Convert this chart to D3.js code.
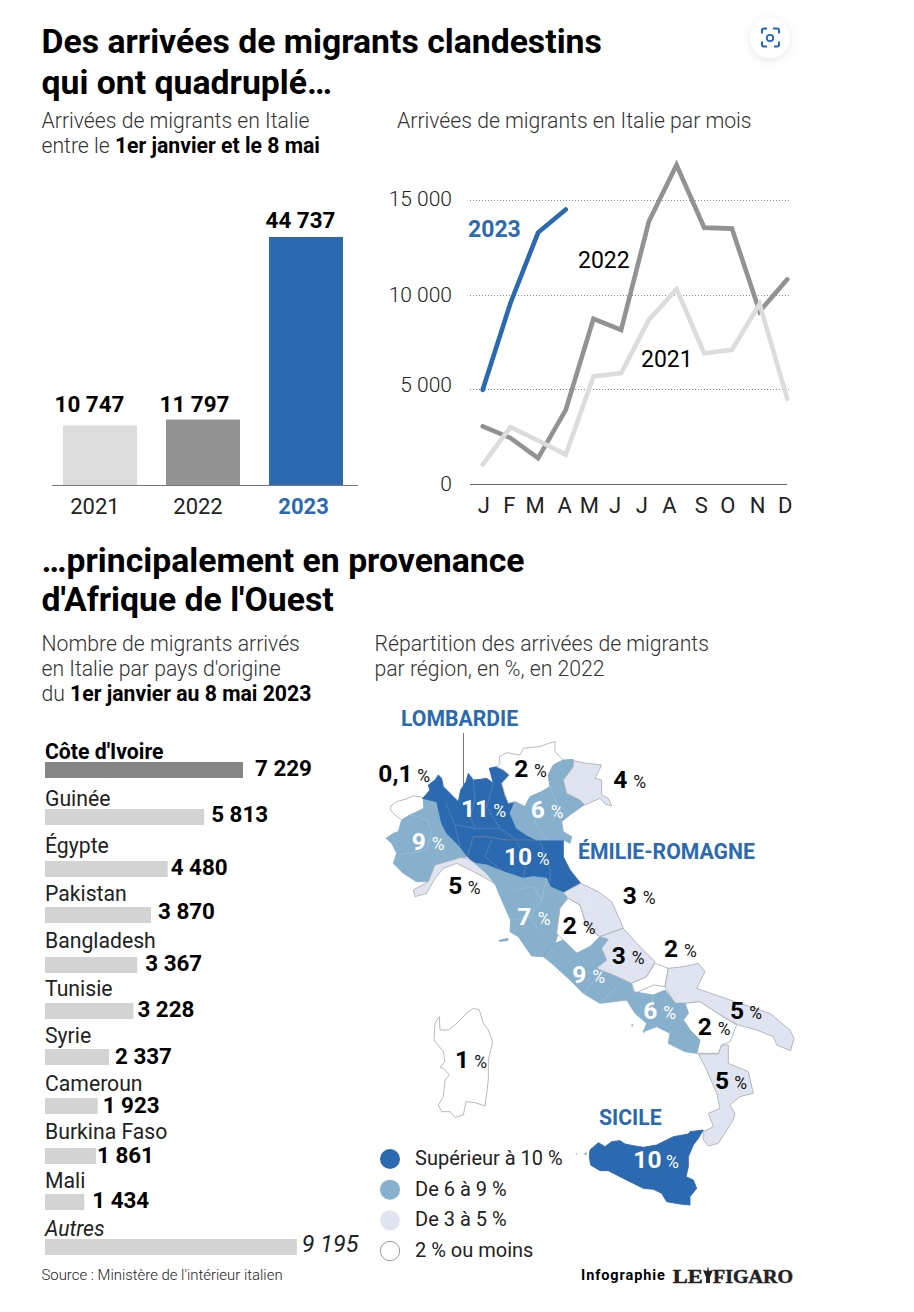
<!DOCTYPE html>
<html><head><meta charset="utf-8">
<script src="https://cdn.jsdelivr.net/npm/d3@7/dist/d3.min.js"></script>
<style>html,body{margin:0;padding:0;background:#fff}svg{display:block}text{font-family:Roboto,sans-serif}</style>
</head><body><svg id="c" width="914" height="1312"></svg>
<script>
const years=["2021","2022","2023"];
const totals=[10747,11797,44737];
const months=["J","F","M","A","M","J","J","A","S","O","N","D"];
const s2021=[1020,3000,2300,1550,5680,5860,8670,10290,6910,7090,9510,4500];
const s2022=[3040,2430,1370,3920,8720,8140,13860,16850,13540,13490,9110,10810];
const s2023=[4976,9550,13280,14500];
const yTicks=[0,5000,10000,15000];
const countries=["Côte d'Ivoire","Guinée","Égypte","Pakistan","Bangladesh","Tunisie","Syrie","Cameroun","Burkina Faso","Mali","Autres"];
const migrants=[7229,5813,4480,3870,3367,3228,2337,1923,1861,1434,9195];
const legendLabels=["Supérieur à 10 %","De 6 à 9 %","De 3 à 5 %","2 % ou moins"];
// regional shares and traced outlines (map units)
const regionNames=["Aoste","Piémont","Lombardie","Émilie-Romagne","Trentin","Vénétie","Frioul","Ligurie","Toscane","Ombrie","Marches","Latium","Abruzzes","Molise","Pouilles","Basilicate","Campanie","Calabre","Sicile","Sardaigne"];
const regionShares=[0.1,9,11,10,2,6,4,5,7,2,3,9,3,2,5,2,6,5,10,1];
const regionOutlines=[
[[92,318],[110,305],[135,298],[160,288],[190,292],[192,325],[165,340],[150,345],[125,360],[105,345],[92,330]],
[[190,295],[230,305],[245,370],[260,400],[300,440],[322,470],[300,473],[260,485],[225,495],[205,545],[170,545],[130,520],[100,490],[110,460],[95,430],[78,415],[100,400],[115,395],[125,360],[150,345],[192,325]],
[[188,295],[210,270],[205,255],[225,240],[235,225],[245,235],[250,260],[280,290],[295,305],[302,270],[318,245],[325,220],[340,240],[362,238],[380,235],[400,250],[388,205],[410,200],[430,210],[448,225],[425,250],[435,285],[445,310],[465,305],[450,340],[470,385],[500,405],[530,420],[440,420],[380,410],[340,410],[322,470],[300,440],[260,400],[245,370],[230,305]],
[[340,410],[380,410],[440,420],[530,420],[610,420],[610,470],[630,510],[662,550],[610,578],[570,560],[560,535],[520,530],[490,535],[430,515],[380,495],[345,490],[322,470]],
[[418,170],[440,158],[480,165],[490,145],[515,142],[540,140],[565,130],[585,125],[585,155],[610,180],[580,195],[565,225],[570,260],[545,275],[510,290],[495,320],[465,305],[445,310],[435,285],[425,250],[448,225],[430,210],[410,200],[420,190]],
[[610,180],[640,178],[640,200],[610,240],[620,280],[660,300],[672,315],[630,345],[605,365],[610,395],[635,410],[630,430],[610,420],[530,420],[500,405],[470,385],[450,340],[465,305],[495,320],[510,290],[545,275],[570,260],[565,225],[580,195]],
[[640,182],[680,190],[725,195],[705,235],[725,240],[725,285],[745,295],[755,318],[735,312],[720,295],[675,315],[660,300],[620,280],[610,240],[640,200]],
[[322,475],[345,490],[380,520],[405,552],[370,530],[330,510],[290,490],[250,505],[225,535],[200,580],[165,590],[160,570],[205,545],[225,495],[260,485],[300,473]],
[[345,490],[380,495],[430,515],[490,535],[520,530],[560,535],[570,560],[610,578],[625,590],[600,625],[595,700],[585,730],[565,745],[550,770],[515,768],[475,710],[450,695],[452,660],[425,600],[405,552],[380,520]],
[[625,595],[660,615],[680,680],[720,710],[690,740],[650,760],[610,720],[590,700],[600,625]],
[[610,578],[662,550],[715,575],[755,605],[780,660],[790,685],[720,710],[680,680],[660,615],[625,595]],
[[585,730],[610,720],[650,760],[690,740],[720,710],[745,718],[725,745],[740,780],[710,805],[760,825],[815,850],[820,875],[800,900],[760,905],[720,910],[670,880],[630,840],[575,790],[550,770],[565,745]],
[[720,710],[790,685],[830,730],[885,785],[860,830],[815,850],[760,825],[710,805],[740,780],[725,745],[745,718]],
[[885,790],[925,805],[915,860],[880,855],[825,880],[815,850],[860,830]],
[[925,805],[970,800],[1015,790],[1035,815],[1010,865],[1110,900],[1230,940],[1290,990],[1302,1015],[1292,1052],[1250,1035],[1240,1010],[1190,990],[1135,975],[1080,945],[1020,905],[975,910],[945,910],[915,860]],
[[975,910],[1020,905],[1080,945],[1130,975],[1110,1025],[1085,1035],[1075,1060],[1010,1060],[1020,1020],[990,990],[970,960],[985,940]],
[[800,900],[820,875],[880,885],[915,870],[945,910],[975,910],[985,940],[970,960],[990,990],[1020,1020],[1010,1060],[975,1055],[925,1030],[930,1000],[890,980],[850,995],[860,970],[825,940]],
[[1015,1062],[1075,1062],[1085,1035],[1105,1035],[1105,1090],[1165,1115],[1180,1180],[1140,1190],[1110,1215],[1125,1240],[1120,1260],[1075,1330],[1045,1338],[1030,1320],[1030,1295],[1060,1280],[1045,1240],[1080,1225],[1070,1180],[1040,1110]],
[[690,1350],[715,1328],[735,1340],[755,1325],[780,1322],[795,1332],[820,1337],[850,1342],[890,1335],[920,1320],[940,1310],[985,1302],[990,1295],[1030,1290],[1015,1315],[1000,1335],[985,1370],[985,1400],[978,1430],[1000,1440],[1010,1465],[990,1490],[990,1515],[960,1512],[920,1505],[905,1480],[880,1468],[850,1465],[810,1445],[780,1430],[745,1412],[720,1412],[692,1395],[688,1370]],
[[238,950],[225,970],[222,1020],[250,1055],[255,1085],[240,1102],[250,1105],[268,1125],[255,1140],[250,1190],[235,1215],[245,1235],[270,1235],[285,1252],[310,1245],[318,1205],[345,1208],[375,1218],[385,1140],[385,1080],[398,1025],[385,990],[370,970],[358,930],[340,925],[325,935],[290,970],[265,990],[240,990]]
];
const islets=[[[415,720],[445,713],[445,722],[420,726]],[[812,975],[820,972],[818,980]],[[848,995],[856,992],[852,1000]],[[646,1360],[652,1360],[650,1364]],[[670,1362],[680,1356],[680,1366]]];
const provinceLines=[
[[205,360],[215,400],[200,450],[120,465]],[[150,345],[205,360]],[[230,430],[255,470]],
[[258,310],[285,375],[345,385],[420,385],[470,420]],[[340,240],[345,300],[330,350],[345,385]],[[400,250],[380,320],[420,385]],[[285,375],[300,440]],
[[395,420],[375,470],[430,515]],[[470,425],[500,480],[490,535]],[[540,425],[570,500],[570,560]],
[[540,300],[525,370],[560,420]],[[570,260],[600,330],[605,365]],[[460,570],[520,560],[545,600],[510,650],[535,690]],[[560,535],[545,600]],[[452,660],[510,650]],
[[690,570],[690,640],[760,640]],[[660,900],[710,830]],[[720,910],[770,860]],[[880,885],[870,950]],[[1100,1260],[1060,1265]],[[1110,900],[1140,970]],[[1210,960],[1190,990]]
];
const gridBorders=[[[322,470],[340,410],[380,410],[440,420],[530,420]],[[585,730],[565,745],[550,770]]];
const mapAnchors=[[55,245,172],[155,450,215],[303,352,400],[432,495,530],[463,232,522],[512,353,572],[760,265,820],[265,583,323],[472,675,533],[608,702,668],[788,613,848],[637,848,697],[755,793,815],[912,770,972],[1110,958,1168],[1013,1005,1073],[850,957,910],[1065,1168,1123],[820,1405,918],[285,1103,343]];

const svg=d3.select("#c");
const BLUE="#2b69b1",G1="#dcdcdc",G2="#929292",MID="#87b0cd",LIGHT="#dfe4f0";
function T(x,y,s,o={}){const t=svg.append("text").attr("x",x).attr("y",y).text(s)
 .attr("font-size",o.size||20).attr("font-weight",o.w||400).attr("fill",o.fill||"#000");
 if(o.anchor)t.attr("text-anchor",o.anchor); if(o.ls)t.attr("letter-spacing",o.ls); if(o.style)t.attr("font-style",o.style); if(o.fam)t.style("font-family",o.fam);return t;}
function rich(x,y,parts,size){const t=svg.append("text").attr("x",x).attr("y",y).attr("font-size",size);
 parts.forEach(p=>t.append("tspan").text(p[0]).attr("font-weight",p[1]).attr("fill",p[1]>=700?"#000":"#333"));}

// titles
const TS=33.75,SS=21.2;
T(41.5,53,"Des arrivées de migrants clandestins",{size:TS,w:700});
T(41.5,94,"qui ont quadruplé…",{size:TS,w:700});
rich(41.5,128,[["Arrivées de migrants en Italie",300]],SS);
rich(41.5,153,[["entre le ",300],["1er janvier et le 8 mai",700]],SS);
rich(397,128,[["Arrivées de migrants en Italie par mois",300]],SS);
T(41.5,572,"…principalement en provenance",{size:TS,w:700});
T(41.5,611,"d'Afrique de l'Ouest",{size:TS,w:700});
rich(41.5,651,[["Nombre de migrants arrivés",300]],SS);
rich(41.5,676,[["en Italie par pays d'origine",300]],SS);
rich(41.5,701,[["du ",300],["1er janvier au 8 mai 2023",700]],SS);
rich(374.5,651,[["Répartition des arrivées de migrants",300]],SS);
rich(374.5,676,[["par région, en %, en 2022",300]],SS);

// columns
const xb=d3.scaleBand().domain(years).range([63,343]).paddingInner(0.282);
const yb=d3.scaleLinear().domain([0,44737]).range([485,237]);
const barCol=d3.scaleOrdinal().domain(years).range([G1,G2,BLUE]);
svg.append("g").selectAll("rect").data(years).join("rect")
 .attr("x",d=>xb(d)).attr("width",xb.bandwidth())
 .attr("y",(d,i)=>yb(totals[i])).attr("height",(d,i)=>485-yb(totals[i])).attr("fill",d=>barCol(d));
svg.append("line").attr("x1",52).attr("x2",358).attr("y1",485.5).attr("y2",485.5).attr("stroke","#777").attr("stroke-width",1);
const fmt=v=>d3.format(",")(v).replace(/,/g," ");
years.forEach((d,i)=>{
 T(xb(d)+xb.bandwidth()/2+[-10.5,-8.5,-5.5][i],[412,412,228][i],fmt(totals[i]),{size:22.4,w:700,anchor:"middle"});
 T(xb(d)+xb.bandwidth()/2+[-5,-5,-2.5][i],514,d,{size:22,w:i==2?700:400,fill:i==2?BLUE:"#222",anchor:"middle"});
});

// line chart
const xl=d3.scalePoint().domain(d3.range(12)).range([482.7,787.3]);
const yl=d3.scaleLinear().domain([0,15000]).range([484,200]);
svg.append("g").selectAll("line").data(yTicks.slice(1)).join("line")
 .attr("x1",470).attr("x2",790).attr("y1",d=>Math.round(yl(d))+.5).attr("y2",d=>Math.round(yl(d))+.5)
 .attr("stroke","#8a8a8a").attr("stroke-width",1).attr("stroke-dasharray","1 2");
svg.append("line").attr("x1",470).attr("x2",787).attr("y1",484.5).attr("y2",484.5).attr("stroke","#666").attr("stroke-width",1);
const tickLabelDy=[7,3,7,6];
yTicks.forEach((t,i)=>T(452,yl(t)+tickLabelDy[i],t==0?"0":fmt(t),{size:21,w:300,anchor:"end",fill:"#222"}));
const ln=d3.line().x((d,i)=>xl(i)).y(d=>yl(d));
[[s2022,G2],[s2021,G1],[s2023,BLUE]].forEach(([s,c])=>svg.append("path").attr("d",ln(s)).attr("fill","none").attr("stroke",c).attr("stroke-width",4.6).attr("stroke-linejoin","miter").attr("stroke-linecap","round"));
const monthDx=[1,-1,-3,-1,-4,-6,-7,-7,-3,-4,-2,-2];
months.forEach((m,i)=>T(xl(i)+monthDx[i],513,m,{size:22,anchor:"middle",fill:"#222"}));
T(468,237,"2023",{size:23,w:700,fill:BLUE});
T(578,268,"2022",{size:23});
T(641,367,"2021",{size:23});

// horizontal bars
const xh=d3.scaleLinear().domain([0,7229]).range([45,243]);
const barTop=[762,809,861,907,957,1003,1049,1098,1148,1194,1239];
const nameBase=[758.5,806,853,901,948,996,1043,1091,1139,1188,1236];
const valBase=[776,822,875,919,971,1017,1064,1113,1163,1208,1252];
const gapH=[12,7,3,7,8,4,6,5,1,8,5];
countries.forEach((c,i)=>{
 const it=c=="Autres";
 svg.append("rect").attr("x",45).attr("y",barTop[i]).attr("width",xh(migrants[i])-45).attr("height",16).attr("fill",i==0?"#858585":"#d3d3d3");
 T(45,nameBase[i],c,{size:SS,w:i==0?700:400,style:it?"italic":null,fill:i==0?"#000":"#222"});
 T(xh(migrants[i])+gapH[i],valBase[i],fmt(migrants[i]),{size:it?23.3:22.4,w:it?400:700,style:it?"italic":null,fill:it?"#222":"#000"});
});

// map
const mx=d3.scaleLinear().domain([0,1380]).range([360,820]);
const my=d3.scaleLinear().domain([0,1800]).range([700,1300]);
const colorOf=d3.scaleThreshold().domain([2.5,5.5,9.5]).range(["#ffffff",LIGHT,MID,BLUE]);
const mapLine=d3.line().x(p=>mx(p[0])).y(p=>my(p[1])).curve(d3.curveLinearClosed);
const openLine=d3.line().x(p=>mx(p[0])).y(p=>my(p[1]));
svg.append("g").selectAll("path").data(regionNames).join("path")
 .attr("d",(d,i)=>mapLine(regionOutlines[i])).attr("fill",(d,i)=>colorOf(regionShares[i]))
 .attr("stroke",(d,i)=>regionShares[i]>=9.5?BLUE:(regionShares[i]>=5.5?MID:"#aeb2b6")).attr("stroke-width",0.9).attr("stroke-linejoin","round");
svg.append("g").selectAll("path").data(islets).join("path").attr("d",d=>mapLine(d)).attr("fill",MID);
svg.append("g").selectAll("path").data(provinceLines).join("path").attr("d",d=>openLine(d)).attr("fill","none").attr("stroke","#fff").attr("stroke-opacity",.22).attr("stroke-width",.7);
svg.append("g").selectAll("path").data(gridBorders).join("path").attr("d",d=>openLine(d)).attr("fill","none").attr("stroke","#8f8f8f").attr("stroke-opacity",.7).attr("stroke-width",.8);
svg.append("line").attr("x1",463.5).attr("x2",463.5).attr("y1",733).attr("y2",785).attr("stroke","#777").attr("stroke-width",1);
regionNames.forEach((r,i)=>{
 const a=mapAnchors[i],v=regionShares[i],col=v>=5.5?"#fff":"#000";
 T(mx(a[0]),my(a[1]),String(v).replace(".",","),{size:24.5,w:700,fill:col});
 T(mx(a[2]),my(a[1]),"%",{size:17.5,fill:col=="#fff"?"#fff":"#111"});
});
T(401,726,"LOMBARDIE",{size:21.2,w:700,fill:BLUE});
T(578,859,"ÉMILIE-ROMAGNE",{size:21.2,w:700,fill:BLUE});
T(599,1125,"SICILE",{size:21.2,w:700,fill:BLUE});

// legend
const legCol=[BLUE,MID,LIGHT,"#ffffff"];
const ly=d3.scalePoint().domain(legendLabels).range([1159,1251]);
legendLabels.forEach((l,i)=>{
 svg.append("circle").attr("cx",390).attr("cy",ly(l)).attr("r",i==3?9.7:10).attr("fill",legCol[i]).attr("stroke",i==3?"#999":"none");
 T(415,ly(l)+6,l,{size:20,fill:"#222"});
});

// footer
T(41.5,1280,"Source : Ministère de l'intérieur italien",{size:14.9,w:300,fill:"#222"});
T(581,1280,"Infographie",{size:14.5,w:700,ls:.9});
const logo=o=>o.attr("stroke","#222").attr("stroke-width",.5).attr("lengthAdjust","spacingAndGlyphs");
logo(T(672.7,1283,"LE",{size:19.5,w:700,fam:"Liberation Serif",fill:"#222"}).attr("textLength",30));
logo(T(713,1283,"FIGARO",{size:19.5,w:700,fam:"Liberation Serif",fill:"#222"}).attr("textLength",80));
svg.append("path").attr("d","M703 1270l4 1 1-5 1 5 4-1-3 7v6h-4v-6z").attr("fill","#222");

// capture icon
const defs=svg.append("defs");
const f=defs.append("filter").attr("id","sh").attr("x","-50%").attr("y","-50%").attr("width","200%").attr("height","200%");
f.append("feDropShadow").attr("dx",0).attr("dy",2).attr("stdDeviation",4).attr("flood-color","#000").attr("flood-opacity",.1);
svg.append("circle").attr("cx",770).attr("cy",38).attr("r",20).attr("fill","#fff").attr("filter","url(#sh)");
svg.append("path").attr("d","M762 34v-3a2 2 0 0 1 2-2h3M773 29h4a2 2 0 0 1 2 2v3M779 42v3a2 2 0 0 1-2 2h-3M767 47h-3a2 2 0 0 1-2-2v-3").attr("fill","none").attr("stroke","#1f66c4").attr("stroke-width",2).attr("transform","translate(0,-0.5)");
svg.append("circle").attr("cx",770).attr("cy",38).attr("r",3.2).attr("fill","none").attr("stroke","#1f66c4").attr("stroke-width",1.8);
</script></body></html>
